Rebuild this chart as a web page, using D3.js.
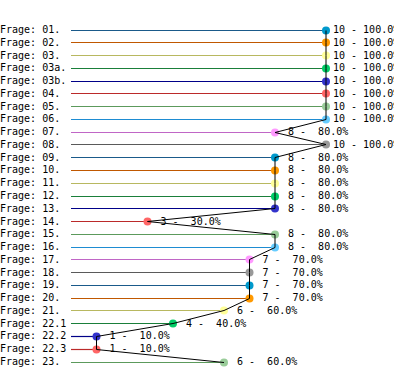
<!DOCTYPE html>
<html>
<head>
<meta charset="utf-8">
<script src="https://cdn.jsdelivr.net/npm/d3@7"></script>
<style>
  body { margin: 0; background: #fff; }
  svg { display: block; }
  text { font-family: "DejaVu Sans Mono", monospace; font-size: 10px; white-space: pre; }
</style>
</head>
<body>
<div id="chart"></div>
<script>
// questions (rows) and their answer counts out of 10
const questions = ["01.", "02.", "03.", "03a.", "03b.", "04.", "05.", "06.", "07.", "08.",
  "09.", "10.", "11.", "12.", "13.", "14.", "15.", "16.", "17.", "18.",
  "19.", "20.", "21.", "22.1", "22.2", "22.3", "23."];
const counts = [10, 10, 10, 10, 10, 10, 10, 10, 8, 10,
  8, 8, 8, 8, 8, 3, 8, 8, 7, 7,
  7, 7, 6, 4, 1, 1, 6];
const maxCount = 10;

const lineColors = ["#1a5a8a", "#c05800", "#b8b860", "#1a7f3a", "#000088",
  "#bb2a2a", "#5c9a5c", "#1e8cd2", "#c066c6", "#5a5a5a"];
const dotColors = ["#0099cc", "#ff9900", "#ffff99", "#00cc66", "#3333cc",
  "#ff6666", "#99cc99", "#66ccff", "#ff99ff", "#999999"];

const width = 394, height = 373;

const svg = d3.select("#chart").append("svg")
  .attr("width", width)
  .attr("height", height);

const x = d3.scaleLinear().domain([0, maxCount]).range([71, 326]);
const y = d3.scalePoint().domain(questions).range([29.5, 361.5]);
const rowY = q => Math.round(y(q)) + 0.5;

const rows = questions.map((q, i) => ({ q, v: counts[i], i }));

const fmt = d => String(d.v).padStart(2, " ") + " - " +
  (d.v / maxCount * 100).toFixed(1).padStart(5, " ") + "%";

// row labels
svg.append("g").selectAll("text")
  .data(rows)
  .enter().append("text")
  .attr("x", 0)
  .attr("y", d => y(d.q))
  .attr("dy", "0.35em")
  .text(d => "Frage: " + d.q);

// bars as lines
svg.append("g").selectAll("line")
  .data(rows)
  .enter().append("line")
  .attr("x1", x(0))
  .attr("x2", d => x(d.v))
  .attr("y1", d => rowY(d.q))
  .attr("y2", d => rowY(d.q))
  .attr("stroke", d => lineColors[d.i % 10])
  .attr("stroke-width", 1.2);

// dots
svg.append("g").selectAll("circle")
  .data(rows)
  .enter().append("circle")
  .attr("cx", d => x(d.v))
  .attr("cy", d => rowY(d.q))
  .attr("r", 4)
  .attr("fill", d => dotColors[d.i % 10]);

// value labels
svg.append("g").selectAll("text")
  .data(rows)
  .enter().append("text")
  .attr("x", d => x(d.v) + 7)
  .attr("y", d => y(d.q))
  .attr("dy", "0.35em")
  .text(fmt);

// profile line through the dots
const profile = d3.line()
  .x(d => x(d.v))
  .y(d => rowY(d.q));

svg.append("path")
  .datum(rows)
  .attr("d", profile)
  .attr("fill", "none")
  .attr("stroke", "#000")
  .attr("stroke-width", 1);
</script>
</body>
</html>
